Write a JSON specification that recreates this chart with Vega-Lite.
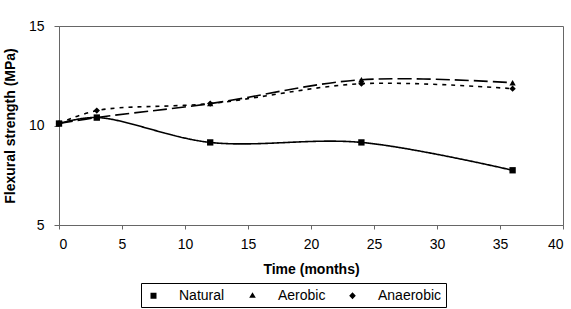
{
  "$schema": "https://vega.github.io/schema/vega-lite/v6.json",
  "width": 504,
  "height": 199,
  "autosize": {"type": "none"},
  "padding": {"left": 59, "top": 26, "right": 8, "bottom": 84},
  "background": "white",
  "config": {
    "font": "Liberation Sans",
    "view": {"stroke": "#666666", "strokeWidth": 1},
    "axis": {
      "grid": false,
      "domainColor": "#666666",
      "tickColor": "#666666",
      "labelColor": "black",
      "labelFontSize": 14,
      "labelFont": "Liberation Sans",
      "titleFont": "Liberation Sans",
      "titleFontSize": 14,
      "titleFontWeight": "bold",
      "titleColor": "black"
    },
    "legend": {"strokeColor": "black"}
  },
  "data": {
    "values": [
      {"series": "Natural", "month": 0, "strength": 10.1},
      {"series": "Natural", "month": 3, "strength": 10.4},
      {"series": "Natural", "month": 12, "strength": 9.15},
      {"series": "Natural", "month": 24, "strength": 9.15},
      {"series": "Natural", "month": 36, "strength": 7.75},
      {"series": "Aerobic", "month": 0, "strength": 10.1},
      {"series": "Aerobic", "month": 3, "strength": 10.4},
      {"series": "Aerobic", "month": 12, "strength": 11.1},
      {"series": "Aerobic", "month": 24, "strength": 12.3},
      {"series": "Aerobic", "month": 36, "strength": 12.15},
      {"series": "Anaerobic", "month": 0, "strength": 10.1},
      {"series": "Anaerobic", "month": 3, "strength": 10.75},
      {"series": "Anaerobic", "month": 12, "strength": 11.1},
      {"series": "Anaerobic", "month": 24, "strength": 12.1},
      {"series": "Anaerobic", "month": 36, "strength": 11.85}
    ]
  },
  "encoding": {
    "x": {
      "field": "month", "type": "quantitative",
      "scale": {"domain": [0, 40], "nice": false},
      "axis": {"values": [0, 5, 10, 15, 20, 25, 30, 35, 40], "title": "Time (months)", "tickSize": 4, "labelPadding": 8, "titlePadding": 11}
    },
    "y": {
      "field": "strength", "type": "quantitative",
      "scale": {"domain": [5, 15], "nice": false, "zero": false},
      "axis": {"values": [5, 10, 15], "title": "Flexural strength (MPa)", "tickSize": 5, "labelPadding": 10, "titlePadding": 11}
    }
  },
  "layer": [
    {
      "mark": {"type": "line", "interpolate": "catmull-rom", "color": "black", "strokeWidth": 1.6},
      "encoding": {
        "detail": {"field": "series"},
        "strokeDash": {
          "field": "series", "type": "nominal",
          "scale": {"domain": ["Natural", "Aerobic", "Anaerobic"], "range": [[1, 0], [14, 5], [4, 5]]},
          "legend": null
        }
      }
    },
    {
      "mark": {"type": "point", "filled": true, "color": "black", "opacity": 1, "size": 40},
      "encoding": {
        "shape": {
          "field": "series", "type": "nominal",
          "scale": {"domain": ["Natural", "Aerobic", "Anaerobic"], "range": ["square", "triangle-up", "diamond"]},
          "legend": null
        }
      }
    },
    {
      "mark": {"type": "point", "filled": true, "color": "black", "opacity": 0, "size": 225},
      "encoding": {
        "shape": {
          "field": "series", "type": "nominal",
          "scale": {"domain": ["Natural", "Aerobic", "Anaerobic"], "range": [
            "M-2.96,0H3.04M-0.4,-0.4H0.4V0.4H-0.4Z",
            "M-2.96,0H1.76M2.56,0H2.8M0,-0.48L0.44,0.28L-0.44,0.28Z",
            "M-2.8,0H-2.24M-1.2,0H-0.72M-0.4,0H0.4M0.72,0H1.28M2.64,0H2.8M0,-0.48L0.44,0L0,0.48L-0.44,0Z"
          ]},
          "legend": {
            "title": null,
            "orient": "none",
            "legendX": 82,
            "legendY": 257,
            "direction": "horizontal",
            "strokeColor": "black",
            "padding": 4,
            "labelFontSize": 14,
            "labelFont": "Liberation Sans",
            "labelColor": "black",
            "labelOffset": 17,
            "columnPadding": 2,
            "symbolOpacity": 1,
            "symbolStrokeColor": "black",
            "symbolStrokeWidth": 1.5,
            "symbolFillColor": "black",
            "symbolSize": 225,
            "encoding": {
              "symbols": {
                "update": {
                  "stroke": {"value": "black"},
                  "strokeWidth": {"value": 1.5},
                  "fill": {"value": "black"},
                  "opacity": {"value": 1}
                }
              }
            }
          }
        }
      }
    }
  ],
  "resolve": {"scale": {"shape": "independent"}}
}
